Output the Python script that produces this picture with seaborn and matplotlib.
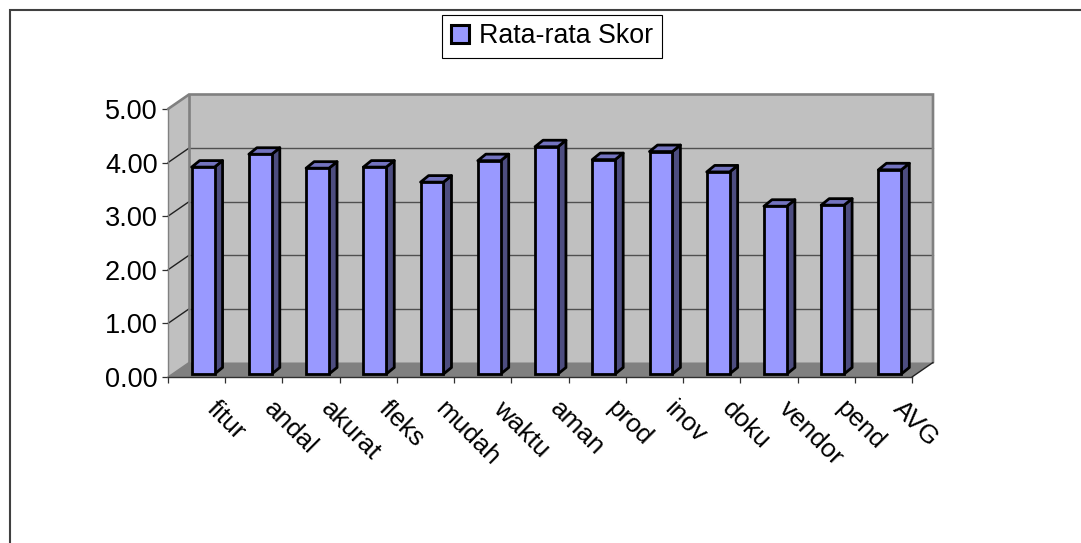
import matplotlib
matplotlib.use("Agg")
import matplotlib.pyplot as plt
import seaborn as sns
import pandas as pd
from matplotlib.patches import Polygon, Patch, Rectangle
from matplotlib.lines import Line2D
from matplotlib.transforms import IdentityTransform, Affine2D

categories = ["fitur", "andal", "akurat", "fleks", "mudah", "waktu", "aman",
              "prod", "inov", "doku", "vendor", "pend", "AVG"]
scores = [3.86, 4.10, 3.84, 3.86, 3.58, 3.98, 4.24, 4.00, 4.15, 3.77, 3.13, 3.15, 3.81]
y_ticks = [0, 1, 2, 3, 4, 5]
series_name = "Rata-rata Skor"

W, H = 1081, 543
sns.set_theme(style="white")
plt.rcParams["font.family"] = ["Liberation Sans", "DejaVu Sans"]
fig = plt.figure(figsize=(W / 100, H / 100), dpi=100, facecolor="white")
# front plane of the pseudo-3D box, in pixels
L, R, T, B = 168, 912, 109, 377
ax = fig.add_axes([L / W, 1 - B / H, (R - L) / W, (B - T) / H])
df = pd.DataFrame({"cat": categories, "score": scores})
EDGE = 2.0
sns.barplot(data=df, x="cat", y="score", ax=ax, color="#9999FF", saturation=1,
            width=0.40, edgecolor="black", linewidth=EDGE, errorbar=None, zorder=5)
ax.set_xlim(-0.5, len(categories) - 0.5)
ax.set_ylim(0, 5)
ax.patch.set_visible(False)
ax.set_xlabel("")
ax.set_ylabel("")

DX, DY = 21, 14.5          # depth of the box
px = IdentityTransform()


def poly(points, **kw):
    ax.add_patch(Polygon(points, closed=True, transform=px, clip_on=False, **kw))


def line(xs, ys, **kw):
    ax.add_line(Line2D(xs, ys, transform=px, clip_on=False, **kw))


x0, y0 = ax.transData.transform((-0.5, 0))
x1, y1 = ax.transData.transform((len(categories) - 0.5, 5))
# walls and floor
poly([(x0 + DX, y0 + DY), (x1 + DX, y0 + DY), (x1 + DX, y1 + DY), (x0 + DX, y1 + DY)],
     facecolor="#C0C0C0", edgecolor="none", zorder=0.5)
poly([(x0, y0), (x0 + DX, y0 + DY), (x0 + DX, y1 + DY), (x0, y1)],
     facecolor="#C0C0C0", edgecolor="none", zorder=0.5)
poly([(x0, y0), (x1, y0), (x1 + DX, y0 + DY), (x0 + DX, y0 + DY)],
     facecolor="#808080", edgecolor="none", zorder=0.8)
# gridlines
for v in y_ticks[1:5]:
    _, yy = ax.transData.transform((0, v))
    line([x0, x0 + DX], [yy, yy + DY], color="#202020", lw=1.0, zorder=1)
    line([x0 + DX, x1 + DX], [yy + DY, yy + DY], color="#505050", lw=1.0, zorder=1)
# wall frame
line([x0, x0 + DX, x1 + DX, x1 + DX], [y1, y1 + DY, y1 + DY, y0 + DY],
     color="#808080", lw=1.9, zorder=1.5, solid_joinstyle="miter")
line([x0 + DX, x0 + DX], [y0 + DY, y1 + DY], color="#808080", lw=1.9, zorder=1.5)
line([x0, x0 + DX], [y0, y0 + DY], color="#808080", lw=1.0, zorder=1.5)
line([x1, x1 + DX], [y0, y0 + DY], color="#202020", lw=1.0, zorder=1.5)

# bars: shift the seaborn bars into the box, add side and top faces
SHIFT_X, SHIFT_Y = 6.5, 3
BX, BY = 8, 6.5
for bar in list(ax.patches):
    if not isinstance(bar, Rectangle):
        continue
    bar.set_transform(ax.transData + Affine2D().translate(SHIFT_X, SHIFT_Y))
    bar.set_clip_on(False)
    (a, b), (c, d) = ax.transData.transform(
        [(bar.get_x(), bar.get_y()), (bar.get_x() + bar.get_width(), bar.get_height())])
    a, c, b, d = a + SHIFT_X, c + SHIFT_X, b + SHIFT_Y, d + SHIFT_Y
    poly([(c, b), (c + BX, b + BY), (c + BX, d + BY), (c, d)], facecolor="#4D4D80",
         edgecolor="black", lw=EDGE, zorder=4, joinstyle="round")
    poly([(a, d), (c, d), (c + BX, d + BY), (a + BX, d + BY)], facecolor="#7373BF",
         edgecolor="black", lw=EDGE, zorder=4, joinstyle="round")

# axes
for s in ("top", "right"):
    ax.spines[s].set_visible(False)
ax.spines["left"].set_color("#808080")
ax.spines["left"].set_linewidth(1.0)
ax.spines["bottom"].set_color("#303030")
ax.spines["bottom"].set_linewidth(1.0)
ax.set_yticks(y_ticks)
ax.set_yticklabels([f"{v:.2f}" for v in y_ticks], fontsize=19.5, color="black")
ax.set_xticks([i - 0.5 for i in range(len(categories) + 1)], minor=False)
ax.set_xticklabels([""] * (len(categories) + 1))
ax.tick_params(axis="both", which="major", length=4, width=0.9, color="#303030",
               left=True, bottom=True, pad=3.5)
# category labels, anchored on each category
for i, name in enumerate(categories):
    ax.annotate(name, xy=(i, 0), xycoords=("data", "data"), xytext=(14, -28),
                textcoords="offset pixels", rotation=-45, rotation_mode="anchor",
                ha="left", va="center", fontsize=18.8, color="black",
                annotation_clip=False)

# legend
lg = fig.legend(handles=[Patch(facecolor="#9999FF", edgecolor="black", lw=2.2, label=series_name)],
                loc="center", bbox_to_anchor=(552 / W, 1 - 36.5 / H), fontsize=19.3,
                frameon=True, fancybox=False, framealpha=1, edgecolor="black",
                borderpad=0.33, handlelength=0.66, handleheight=0.66, handletextpad=0.38,
                borderaxespad=0, labelcolor="black")
lg.get_frame().set_linewidth(0.8)

# outer chart border: only the top and left edges fall inside the picture
fig.add_artist(Line2D([10 / W, 10 / W, 1], [0, 1 - 10 / H, 1 - 10 / H],
                      transform=fig.transFigure, color="#404040", lw=1.5,
                      solid_joinstyle="miter"))
fig.savefig("out.png", dpi=100, facecolor="white")
